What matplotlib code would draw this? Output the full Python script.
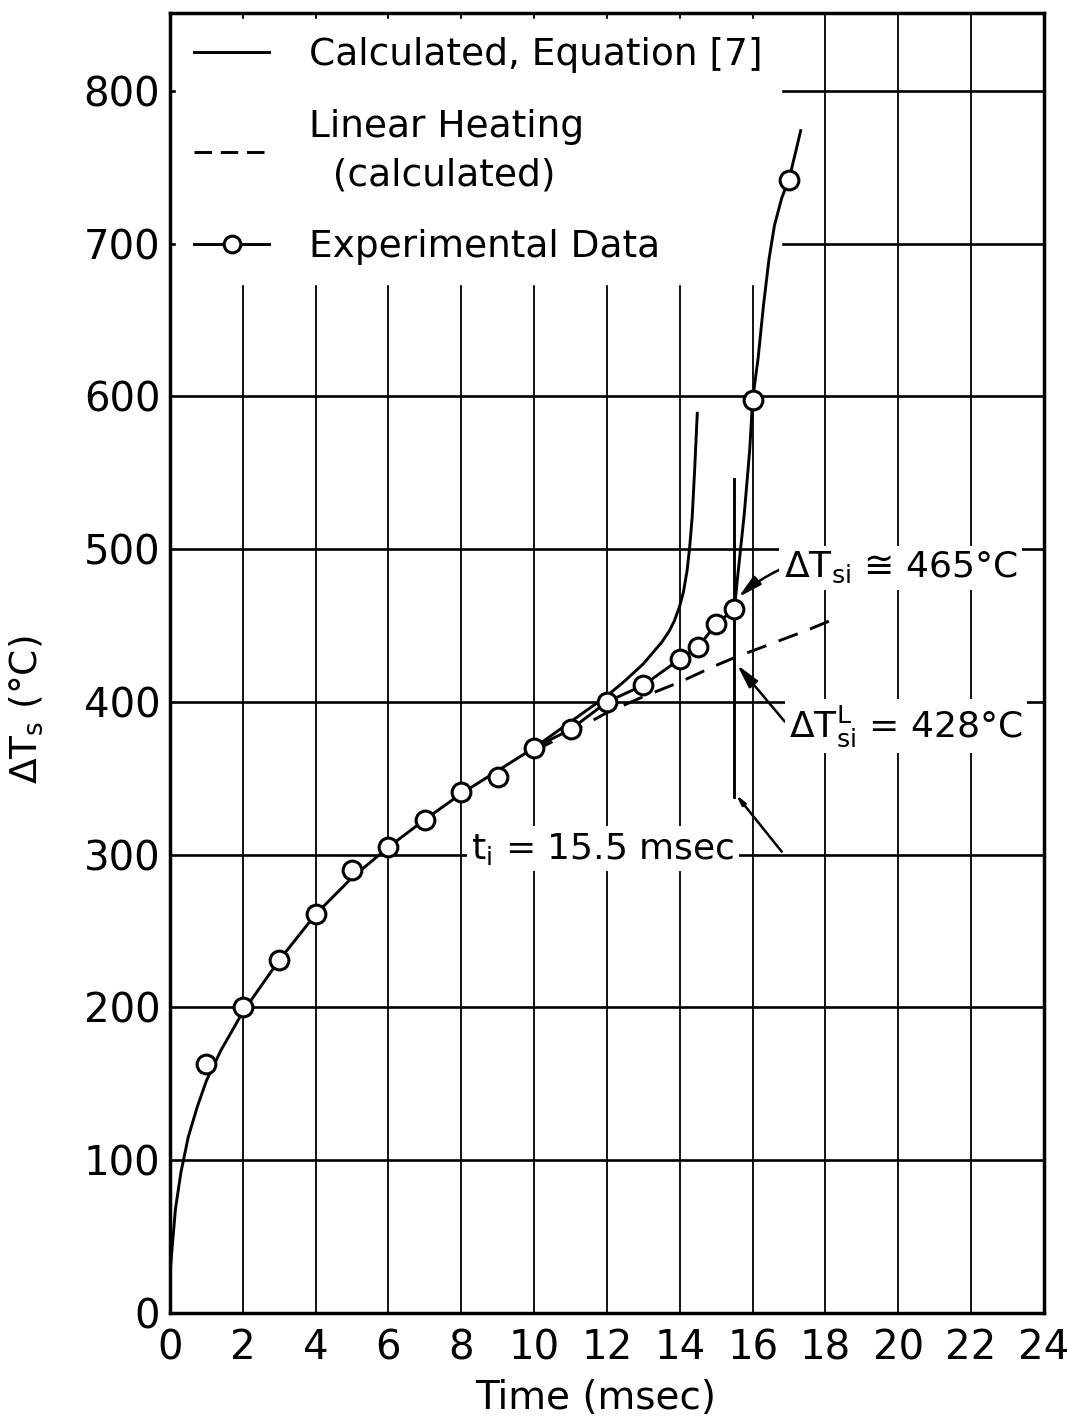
import matplotlib
matplotlib.use('Agg')
import matplotlib.pyplot as plt
from matplotlib.lines import Line2D

# experimental data points (msec, deg C)
exp_t = [1, 2, 3, 4, 5, 6, 7, 8, 9, 10, 11, 12, 13, 14, 14.5, 15, 15.5, 16, 17]
exp_T = [163, 200, 231, 261, 290, 305, 323, 341, 351, 370, 382, 400, 411, 428, 436, 451, 461, 598, 742]

# faired line through the data where it leaves the calculated curve
exp_line_t = [10, 11, 12, 13, 14, 14.5, 15, 15.5, 15.58, 15.77, 15.92, 16.0, 16.15, 16.3,
              16.45, 16.6, 16.8, 17.0, 17.15, 17.32]
exp_line_T = [370, 382, 400, 411, 428, 436, 451, 461, 480, 523, 565, 598, 625, 660,
              690, 712, 730, 742, 757, 774]

# calculated, equation [7]
calc_t = [0.0, 0.05, 0.15, 0.3, 0.5, 0.75, 1.0, 1.4, 2.0, 3.0, 4.0, 5.0, 6.0, 7.0, 8.0, 9.0,
          10.0, 11.0, 12.0, 12.5, 13.0, 13.5, 13.7, 13.85, 14.0, 14.1, 14.2, 14.27, 14.34,
          14.41, 14.48]
calc_T = [25, 40, 68, 92, 115, 135, 152, 172, 197, 231, 261, 285, 305, 323, 340, 355,
          370, 387, 404, 414, 425, 439, 446, 453, 463, 472, 486, 501, 521,
          553, 589]

# linear heating (calculated)
lin_t = [10, 11, 12, 13, 14, 15, 15.5, 16.5, 17.5, 18.36]
lin_T = [368, 380, 393, 403.5, 413, 424, 429, 438, 447, 455.5]

# ignition
t_i = 15.5
t_i_span = [338, 546]
dT_si = 465
dT_si_L = 428

x_ticks = list(range(0, 25, 2))
y_ticks = list(range(0, 801, 100))

plt.rcParams['font.family'] = ['DejaVu Sans']
plt.rcParams['mathtext.fontset'] = 'dejavusans'

fig = plt.figure(figsize=(10.67, 14.17), dpi=100)
ax = fig.add_axes([0.1593, 0.0734, 0.8191, 0.9174])

ax.set_xlim(0, 24)
ax.set_ylim(0, 851)
ax.set_xticks(x_ticks)
ax.set_yticks(y_ticks)
ax.set_axisbelow(True)
ax.grid(axis='x', color='black', lw=1.3)
ax.grid(axis='y', color='black', lw=1.9)
for s in ax.spines.values():
    s.set_linewidth(2.5)
ax.tick_params(axis='x', length=0, pad=11, labelsize=29)
ax.tick_params(axis='y', length=0, pad=7, labelsize=29)

lw = 2.1
ax.plot(calc_t, calc_T, color='black', lw=lw, zorder=3)
ax.plot(exp_line_t, exp_line_T, color='black', lw=lw, zorder=3)
ax.plot(lin_t, lin_T, color='black', lw=lw, dashes=(7, 4.5), zorder=3)
ax.plot(exp_t, exp_T, 'o', ms=13.5, mfc='white', mec='black', mew=2.2, zorder=4)
ax.plot([t_i, t_i], t_i_span, color='black', lw=lw, zorder=3)

box = dict(boxstyle='square,pad=0.12', fc='white', ec='none')
arrow = dict(arrowstyle='-|>,head_length=0.55,head_width=0.13', color='black', lw=1.8,
             shrinkA=0, shrinkB=1)

ax.annotate(r'$\Delta\mathrm{T_{si}}$ ≅ %d°C' % dT_si, xy=(15.58, 468), xytext=(16.85, 488),
            fontsize=26, ha='left', va='center', bbox=box, zorder=6,
            arrowprops=dict(arrow, connectionstyle='arc3,rad=0.3'))
ax.annotate(r'$\Delta\mathrm{T_{si}^{L}}$ = %d°C' % dT_si_L, xy=(15.55, 425), xytext=(17.0, 384),
            fontsize=26, ha='left', va='center', bbox=box, zorder=6,
            arrowprops=dict(arrow, connectionstyle='angle,angleA=0,angleB=130,rad=0'))
ax.text(8.27, 304, r'$\mathrm{t_i}$ = %.1f msec' % t_i, fontsize=26, ha='left', va='center',
        bbox=box, zorder=6)
ax.annotate('', xy=(t_i + 0.02, t_i_span[0] + 2), xytext=(16.8, 302), zorder=6,
            arrowprops=arrow)

handles = [Line2D([], [], color='black', lw=lw),
           Line2D([], [], color='black', lw=lw, dashes=(6, 3)),
           Line2D([], [], color='black', lw=lw, marker='o', ms=12, mfc='white', mew=2.2)]
labels = ['Calculated, Equation [7]', 'Linear Heating\n  (calculated)', 'Experimental Data']
leg = ax.legend(handles, labels, loc='upper left', fontsize=27, handlelength=2.0,
                handletextpad=1.05, labelspacing=0.95, borderpad=0.5, borderaxespad=0.15,
                frameon=True, fancybox=False, framealpha=1, facecolor='white', edgecolor='white')
leg.get_texts()[1].set_linespacing(1.45)
# legend sits above the grid but below the curves
leg.set_zorder(2.6)

ax.set_xlabel('Time (msec)', fontsize=28)
ax.xaxis.set_label_coords(0.487, -0.051)
ax.set_ylabel(r'$\Delta\mathrm{T_s}$ (°C)', fontsize=27)
ax.yaxis.set_label_coords(-0.143, 0.464)

fig.savefig('out.png', dpi=100)
